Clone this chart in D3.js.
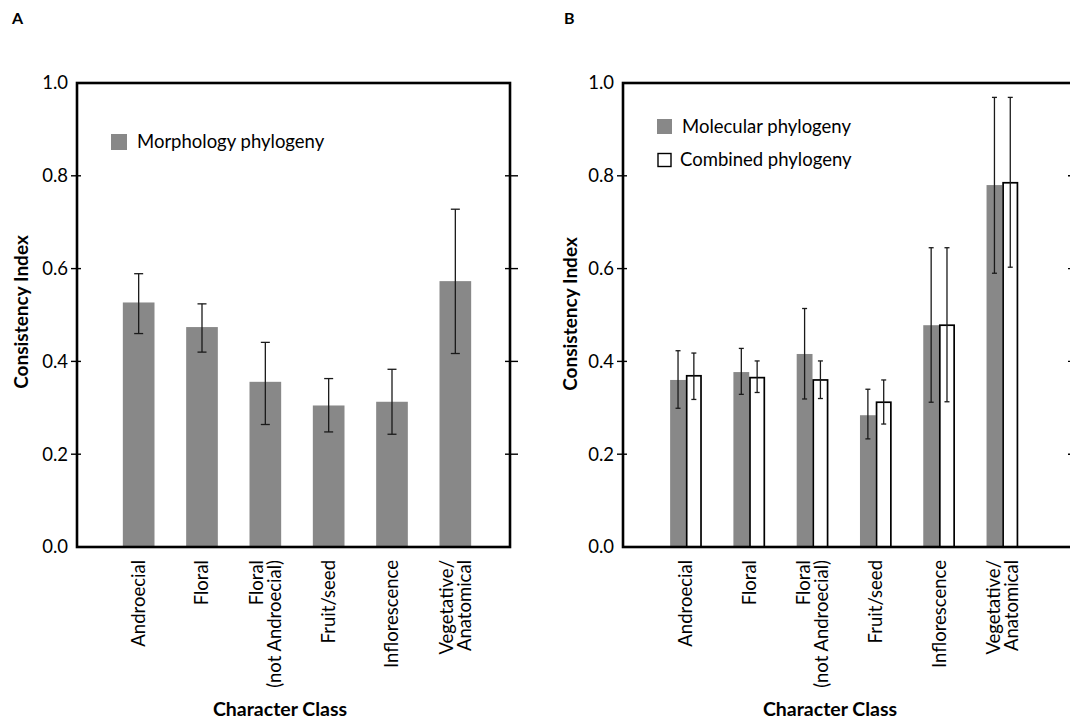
<!DOCTYPE html>
<html><head><meta charset="utf-8">
<script src="https://cdn.jsdelivr.net/npm/d3@7"></script>
<style>body{margin:0;background:#fff}svg{display:block}text{font-family:Lato,"Open Sans",sans-serif;fill:#000}</style>
</head><body>
<svg id="c" width="1070" height="719"></svg>
<script>
const categories = [["Androecial"],["Floral"],["Floral","(not Androecial)"],["Fruit/seed"],["Inflorescence"],["Vegetative/","Anatomical"]];
const yTicks = [0.0,0.2,0.4,0.6,0.8,1.0];
const morphMean = [0.527,0.474,0.356,0.305,0.313,0.573];
const morphLow  = [0.460,0.420,0.264,0.248,0.243,0.417];
const morphHigh = [0.589,0.524,0.441,0.363,0.383,0.728];
const molMean  = [0.360,0.377,0.416,0.284,0.478,0.780];
const molLow   = [0.299,0.329,0.319,0.233,0.312,0.590];
const molHigh  = [0.423,0.428,0.514,0.340,0.645,0.969];
const combMean = [0.369,0.365,0.360,0.312,0.478,0.785];
const combLow  = [0.318,0.333,0.320,0.265,0.313,0.603];
const combHigh = [0.418,0.401,0.401,0.360,0.645,0.969];

const svg = d3.select("#c");
const GRAY = "#888888";
const y = d3.scaleLinear().domain([0,1]).range([547,83]);
const keys = categories.map((c,i)=>i);

function panel(opt){
  const g = svg.append("g");
  const x = d3.scaleBand().domain(keys).range(opt.band).paddingInner(0).paddingOuter(0);
  const bw = x.bandwidth()*0.5;
  const inner = d3.scaleBand().domain(d3.range(opt.series.length)).range([-bw/2,bw/2]);
  opt.series.forEach((s,si)=>{
    const sel = g.selectAll(null).data(keys).enter();
    sel.append("rect")
      .attr("x",i=>x(i)+x.bandwidth()/2+inner(si)+(s.stroke?0.75:0))
      .attr("y",i=>y(s.mean[i]))
      .attr("width",inner.bandwidth()-(s.stroke?1.5:0))
      .attr("height",i=>y(0)-y(s.mean[i]))
      .attr("fill",s.fill).attr("stroke",s.stroke||"none").attr("stroke-width",1.7);
    const cx = i=>x(i)+x.bandwidth()/2+inner(si)+inner.bandwidth()/2;
    sel.append("line").attr("x1",cx).attr("x2",cx)
      .attr("y1",i=>y(s.low[i])).attr("y2",i=>y(s.high[i]))
      .attr("stroke","#1a1a1a").attr("stroke-width",1.3);
    [s.low,s.high].forEach(arr=>{
      sel.append("line").attr("x1",i=>cx(i)-opt.cap/2).attr("x2",i=>cx(i)+opt.cap/2)
        .attr("y1",i=>y(arr[i])).attr("y2",i=>y(arr[i]))
        .attr("stroke","#1a1a1a").attr("stroke-width",1.3);
    });
  });
  g.append("rect").attr("x",opt.x0).attr("y",y(1)).attr("width",opt.x1-opt.x0).attr("height",y(0)-y(1))
    .attr("fill","none").attr("stroke","#000").attr("stroke-width",2.6);
  const ax = d3.axisLeft(y).tickValues(yTicks).tickFormat(d3.format(".1f")).tickSize(0).tickPadding(9);
  const axg = g.append("g").attr("transform",`translate(${opt.x0},0)`).call(ax);
  axg.select(".domain").remove();
  axg.selectAll("text").style("font-family","Lato, sans-serif").style("font-size","18.5px").attr("fill","#000");
  const mid = yTicks.filter(t=>t>0&&t<1);
  g.selectAll(null).data(mid).enter().append("line")
    .attr("x1",opt.x0-6).attr("x2",opt.x0+4).attr("y1",d=>y(d)).attr("y2",d=>y(d)).attr("stroke","#000").attr("stroke-width",1.4);
  g.selectAll(null).data(mid).enter().append("line")
    .attr("x1",opt.x1-5).attr("x2",opt.x1+8).attr("y1",d=>y(d)).attr("y2",d=>y(d)).attr("stroke","#000").attr("stroke-width",1.4);
  const lab = g.selectAll(null).data(keys).enter().append("text")
    .attr("transform",i=>`translate(${x(i)+x.bandwidth()/2},560) rotate(-90)`)
    .attr("text-anchor","end").style("font-size","18.5px");
  lab.each(function(i){
    const t = d3.select(this), lines = categories[i];
    lines.forEach((L,j)=>{
      t.append("tspan").attr("x",0)
        .attr("dy", j===0 ? (0.35 - (lines.length-1)*0.5)+"em" : "1.0em").text(L);
    });
  });
  g.append("text").attr("transform",`translate(${opt.yTitleX},${opt.yTitleY}) rotate(-90)`)
    .attr("text-anchor","middle").attr("dy","0.35em").style("font-size","19px").style("font-weight","bold").text("Consistency Index");
  g.append("text").attr("x",opt.xTitleX).attr("y",716).attr("text-anchor","middle")
    .style("font-size","19.5px").style("font-weight","bold").text("Character Class");
  g.append("text").attr("x",opt.letterX).attr("y",24).style("font-size","16px").style("font-weight","bold").text(opt.letter);
  opt.legend.forEach(l=>{
    g.append("rect").attr("x",l.rx).attr("y",l.ry).attr("width",l.rs).attr("height",l.rs)
      .attr("fill",l.fill).attr("stroke",l.stroke||"none").attr("stroke-width",1.4);
    g.append("text").attr("x",l.tx).attr("y",l.ry+l.rs/2).attr("dy","0.35em").style("font-size","18.5px").text(l.label);
  });
}

panel({
  x0:77, x1:510, band:[107,487], cap:9, letter:"A", letterX:12,
  yTitleX:21, yTitleY:312, xTitleX:280,
  series:[{mean:morphMean,low:morphLow,high:morphHigh,fill:GRAY}],
  legend:[{rx:111,ry:134,rs:16,fill:GRAY,tx:137,label:"Morphology phylogeny"}]
});
panel({
  x0:623, x1:1073, band:[654.3,1034], cap:5, letter:"B", letterX:564,
  yTitleX:570, yTitleY:314, xTitleX:830,
  series:[{mean:molMean,low:molLow,high:molHigh,fill:GRAY},
          {mean:combMean,low:combLow,high:combHigh,fill:"#fff",stroke:"#000"}],
  legend:[{rx:657,ry:119,rs:15,fill:GRAY,tx:682,label:"Molecular phylogeny"},
          {rx:658,ry:153.5,rs:13,fill:"#fff",stroke:"#000",tx:680,label:"Combined phylogeny"}]
});
</script>
</body></html>
